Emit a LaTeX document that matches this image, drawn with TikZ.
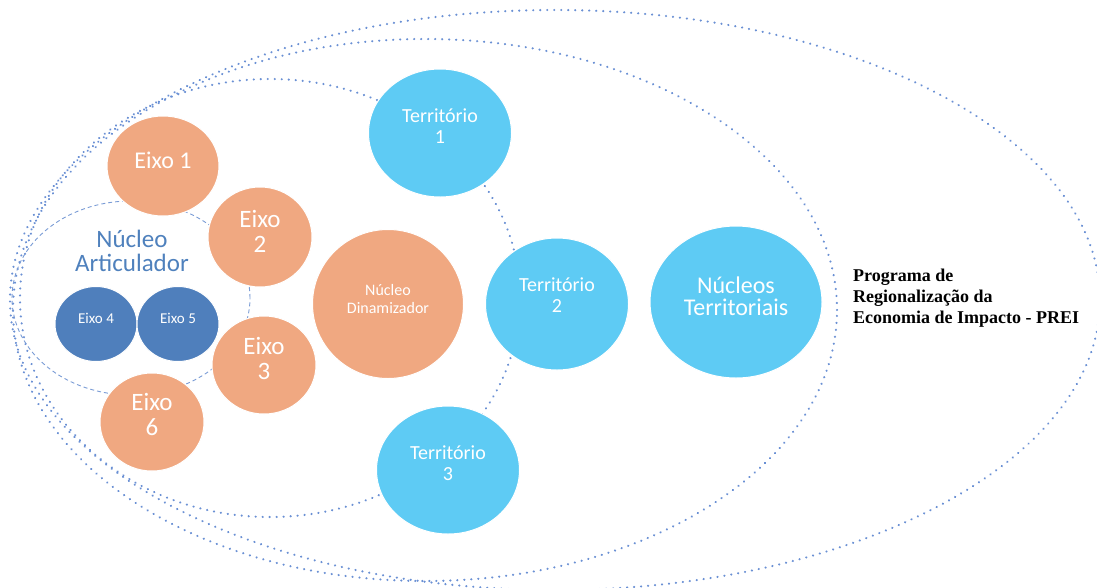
\documentclass[tikz,border=0pt]{standalone}
\usepackage{fontspec}
\setmainfont{Carlito}
\newfontfamily\preifont{Liberation Serif}
\usetikzlibrary{shapes.geometric}
\definecolor{orangeC}{HTML}{F0A881}
\definecolor{lblue}{HTML}{5ECBF4}
\definecolor{dblue}{HTML}{4F7FBC}
\definecolor{artic}{HTML}{4F81BD}
\definecolor{dotc}{HTML}{6A90D4}
\definecolor{dashc}{HTML}{7A9CD6}
\tikzset{
  dotline/.style={draw=dotc, line width=2.3pt, line cap=round, dash pattern=on 0.1pt off 6.9pt},
  dashline/.style={draw=dashc, line width=0.9pt, dash pattern=on 4pt off 3pt},
  blob/.style={ellipse, draw=white, line width=1pt, inner sep=0pt},
  orangeblob/.style={blob, fill=orangeC},
  lblueblob/.style={blob, fill=lblue},
  dblueblob/.style={blob, fill=dblue},
  wtext/.style={text=white, align=center, inner sep=0pt},
}
\begin{document}
\begin{tikzpicture}[x=1pt,y=-1pt]
\fill[white] (0,0) rectangle (1097,587);
\useasboundingbox (0,0) rectangle (1097,587);
% dotted ellipses
\draw[dotline] (555,300) ellipse [x radius=545pt, y radius=290pt];
\draw[dotline] (425,310) ellipse [x radius=412pt, y radius=271pt];
\draw[dotline] (270,298) ellipse [x radius=250pt, y radius=219pt];
% dashed ellipse of Nucleo Articulador
\draw[dashline] (131,298) ellipse [x radius=119pt, y radius=97pt];
% circles
\node[orangeblob, minimum width=112pt, minimum height=100pt] (e1) at (163,166) {};
\node[orangeblob, minimum width=104pt, minimum height=100pt] (e2) at (260,237) {};
\node[orangeblob, minimum width=104pt, minimum height=98pt] (e3) at (264,365) {};
\node[orangeblob, minimum width=104pt, minimum height=98pt] (e6) at (152,422) {};
\node[dblueblob, minimum width=82pt, minimum height=75pt] (e4) at (96,324) {};
\node[dblueblob, minimum width=82pt, minimum height=75pt] (e5) at (178,324) {};
\node[orangeblob, minimum width=151pt, minimum height=149pt] (nd) at (388,304) {};
\node[lblueblob, minimum width=143pt, minimum height=128pt] (t1) at (440,133) {};
\node[lblueblob, minimum width=143pt, minimum height=132pt] (t2) at (557,304) {};
\node[lblueblob, minimum width=143pt, minimum height=128pt] (t3) at (448,470) {};
\node[lblueblob, minimum width=172pt, minimum height=152pt] (nt) at (736,302) {};
% texts
\node[wtext, font=\fontsize{24}{25}\selectfont] (e1t) at (163,160) {Eixo 1};
\node[wtext, font=\fontsize{25}{25}\selectfont] (e2t) at (260,231) {Eixo\\2};
\node[wtext, font=\fontsize{25}{25}\selectfont] (e3t) at (264,358) {Eixo\\3};
\node[wtext, font=\fontsize{25}{25}\selectfont] (e6t) at (152,414) {Eixo\\6};
\node[wtext, font=\fontsize{15}{16}\selectfont] (e4t) at (96,318) {Eixo 4};
\node[wtext, font=\fontsize{15}{16}\selectfont] (e5t) at (178,318) {Eixo 5};
\node[wtext, font=\fontsize{16}{18}\selectfont] (ndt) at (388,299) {Núcleo\\Dinamizador};
\node[wtext, font=\fontsize{20}{21}\selectfont] (t1t) at (440,126) {Território\\1};
\node[wtext, font=\fontsize{20}{21}\selectfont] (t2t) at (557,295) {Território\\2};
\node[wtext, font=\fontsize{20}{21}\selectfont] (t3t) at (448,463) {Território\\3};
\node[wtext, font=\fontsize{24}{22}\selectfont] (ntt) at (736,296) {Núcleos\\Territoriais};
\node[text=artic, align=center, inner sep=0pt, font=\fontsize{25}{24}\selectfont] (nat) at (132,251) {Núcleo\\Articulador};
\node[anchor=west, align=left, inner sep=0pt, font=\preifont\bfseries\fontsize{18}{21}\selectfont] (prei) at (853,298) {Programa de\\Regionalização da\\Economia de Impacto - PREI};
\end{tikzpicture}
\end{document}
